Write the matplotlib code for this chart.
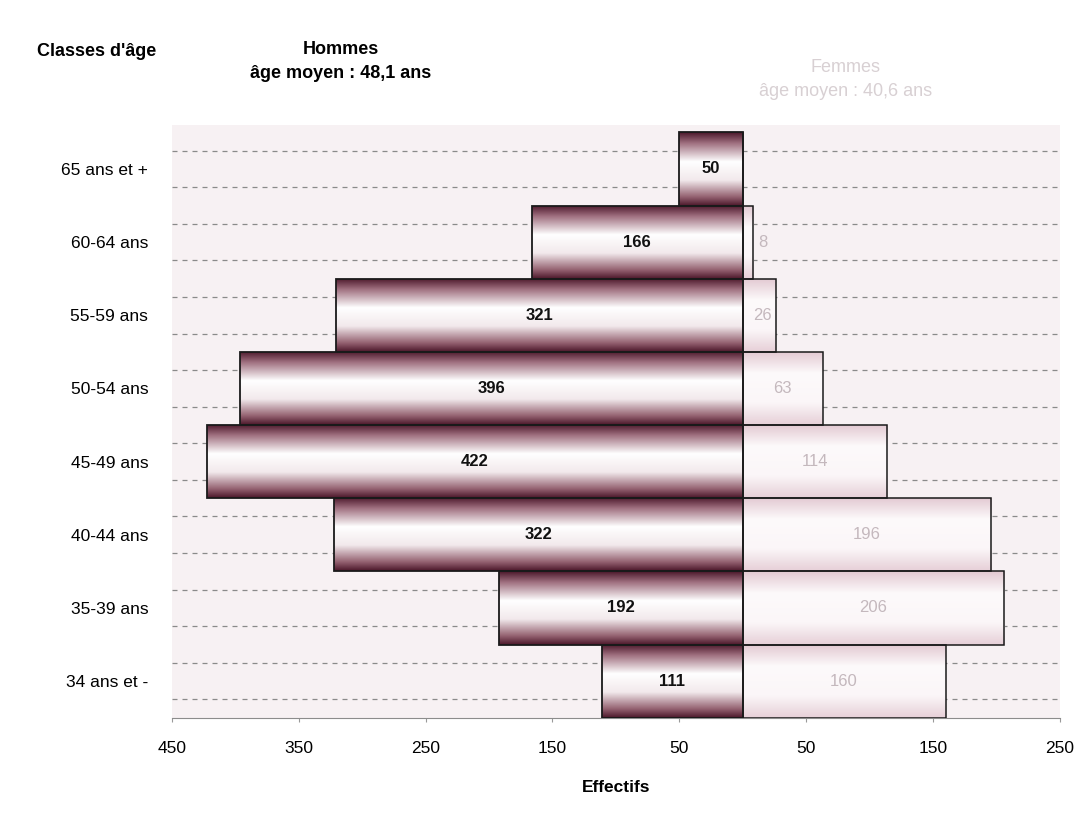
import numpy as np
import matplotlib.pyplot as plt
from matplotlib.colors import LinearSegmentedColormap

# Données
classes = ['34 ans et -', '35-39 ans', '40-44 ans', '45-49 ans',
           '50-54 ans', '55-59 ans', '60-64 ans', '65 ans et +']
hommes = [111, 192, 322, 422, 396, 321, 166, 50]
femmes = [160, 206, 196, 114, 63, 26, 8, 0]
ticks = [-450, -350, -250, -150, -50, 50, 150, 250]
tick_labels = ['450', '350', '250', '150', '50', '50', '150', '250']

plt.rcParams['font.family'] = ['Liberation Sans', 'DejaVu Sans']

fig = plt.figure(figsize=(10.88, 8.23), dpi=100)
ax = fig.add_axes([0.158, 0.128, 0.816, 0.72])
ax.set_facecolor('#f7f1f3')

y = np.arange(len(classes))

# dégradés
cm_h = LinearSegmentedColormap.from_list('h', [(0, '#4a1629'), (0.12, '#93606f'), (0.35, '#f2e9ec'),
                                               (0.6, '#ffffff'), (0.85, '#a07080'), (1, '#4a1629')])
cm_f = LinearSegmentedColormap.from_list('f', [(0, '#e6cfd7'), (0.3, '#fbf6f8'),
                                               (0.7, '#fdfafb'), (1, '#e2c8d1')])
grad = np.linspace(0, 1, 256).reshape(-1, 1)

# lignes pointillées
for yy in np.arange(-0.25, len(classes), 0.5):
    ax.axhline(yy, color='#8a8a8a', lw=0.9, ls=(0, (4, 4)), zorder=1)

bars_h = ax.barh(y, [-v for v in hommes], height=1.0, facecolor='none',
                 edgecolor='#1a1a1a', lw=1.3, zorder=4)
bars_f = ax.barh(y, femmes, height=1.0, facecolor='none',
                 edgecolor='#1a1a1a', lw=1.1, zorder=4)

for b in bars_h:
    x0, y0, w, h = b.get_x(), b.get_y(), b.get_width(), b.get_height()
    im = ax.imshow(grad, cmap=cm_h, aspect='auto', origin='lower',
                   extent=[x0, x0 + w, y0, y0 + h], zorder=3)
    im.set_clip_path(b)
for b in bars_f:
    if b.get_width() == 0:
        continue
    x0, y0, w, h = b.get_x(), b.get_y(), b.get_width(), b.get_height()
    im = ax.imshow(grad, cmap=cm_f, aspect='auto', origin='lower',
                   extent=[x0, x0 + w, y0, y0 + h], zorder=3)
    im.set_clip_path(b)

# valeurs
for i, v in enumerate(hommes):
    ax.text(-v / 2, i, str(v), ha='center', va='center', fontsize=12,
            fontweight='bold', color='#111111', zorder=5)
for i, v in enumerate(femmes):
    if v == 0:
        continue
    ax.text(max(v / 2, 16), i, str(v), ha='center', va='center', fontsize=12,
            color='#c4b8bd', zorder=5)

ax.set_xlim(-450, 250)
ax.set_ylim(-0.5, 7.6)
ax.set_xticks(ticks)
ax.set_xticklabels(tick_labels, fontsize=12.5)
ax.set_yticks(y)
ax.set_yticklabels(classes, fontsize=12.5)
ax.tick_params(axis='y', length=0, pad=17)
ax.tick_params(axis='x', length=3, color='#999999', pad=14)
for s in ['top', 'right', 'left']:
    ax.spines[s].set_visible(False)
ax.spines['bottom'].set_color('#8c8c8c')

ax.set_xlabel('Effectifs', fontsize=12.5, fontweight='bold', labelpad=17)
fig.text(0.034, 0.937, "Classes d'âge", fontsize=13, fontweight='bold', va='center')
fig.text(0.313, 0.925, 'Hommes\nâge moyen : 48,1 ans', fontsize=13, fontweight='bold',
         ha='center', va='center', linespacing=1.55)
fig.text(0.777, 0.903, 'Femmes\nâge moyen : 40,6 ans', fontsize=13, color='#d8d0d3',
         ha='center', va='center', linespacing=1.55)

fig.savefig('out.png', dpi=100)
